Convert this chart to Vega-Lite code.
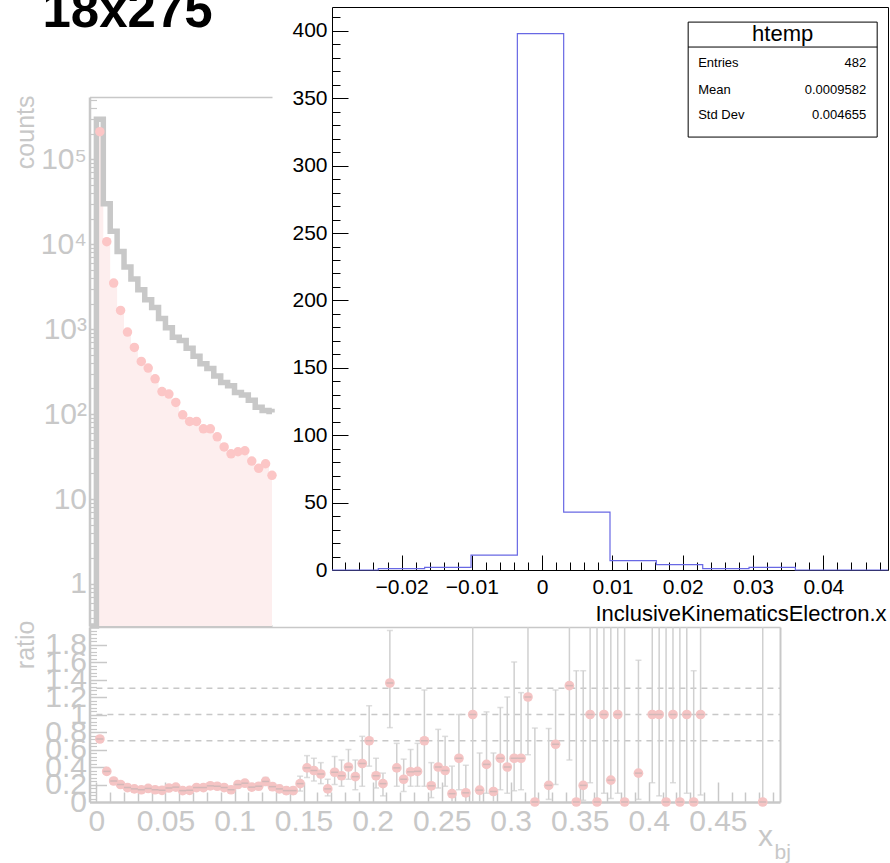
{
 "$schema": "https://vega.github.io/schema/vega-lite/v6.json",
 "width": 890, "height": 863,
 "autosize": {"type": "none"},
 "padding": 0,
 "background": "white",
 "config": {
  "view": {"stroke": null},
  "axis": {"grid": false, "labelFont": "Liberation Sans", "titleFont": "Liberation Sans", "labelFlush": false, "labelOverlap": false, "titleFontWeight": "normal"}
 },
 "datasets": {
  "bins": [
   {"lo": -0.005, "total": 0.32},
   {"lo": 0, "x": 0.0025, "total": 295000, "sel": 211000},
   {"lo": 0.005, "x": 0.0075, "total": 30000, "sel": 10700},
   {"lo": 0.01, "x": 0.0125, "total": 14200, "sel": 3480},
   {"lo": 0.015, "x": 0.0175, "total": 8200, "sel": 1660},
   {"lo": 0.02, "x": 0.0225, "total": 5400, "sel": 922},
   {"lo": 0.025, "x": 0.0275, "total": 3900, "sel": 608},
   {"lo": 0.03, "x": 0.0325, "total": 2900, "sel": 416},
   {"lo": 0.035, "x": 0.0375, "total": 2220, "sel": 348},
   {"lo": 0.04, "x": 0.0425, "total": 1800, "sel": 260},
   {"lo": 0.045, "x": 0.0475, "total": 1330, "sel": 184},
   {"lo": 0.05, "x": 0.0525, "total": 1040, "sel": 172},
   {"lo": 0.055, "x": 0.0575, "total": 800, "sel": 137},
   {"lo": 0.06, "x": 0.0625, "total": 735, "sel": 98},
   {"lo": 0.065, "x": 0.0675, "total": 595, "sel": 82},
   {"lo": 0.07, "x": 0.0725, "total": 480, "sel": 82},
   {"lo": 0.075, "x": 0.0775, "total": 390, "sel": 67},
   {"lo": 0.08, "x": 0.0825, "total": 345, "sel": 67},
   {"lo": 0.085, "x": 0.0875, "total": 280, "sel": 54},
   {"lo": 0.09, "x": 0.0925, "total": 235, "sel": 41},
   {"lo": 0.095, "x": 0.0975, "total": 215, "sel": 34},
   {"lo": 0.1, "x": 0.1025, "total": 180, "sel": 36},
   {"lo": 0.105, "x": 0.1075, "total": 168, "sel": 37},
   {"lo": 0.11, "x": 0.1125, "total": 145, "sel": 28},
   {"lo": 0.115, "x": 0.1175, "total": 120, "sel": 23},
   {"lo": 0.12, "x": 0.1225, "total": 110, "sel": 26},
   {"lo": 0.125, "x": 0.1275, "total": 107, "sel": 19},
   {"lo": 0.13, "x": 0.1325, "total": 104, "sel": 17}
  ],
  "ratio": [
   {"x": 0.0025, "r": 0.72, "lo": 0.712, "hi": 0.728},
   {"x": 0.0075, "r": 0.35, "lo": 0.343, "hi": 0.357},
   {"x": 0.0125, "r": 0.24, "lo": 0.233, "hi": 0.247},
   {"x": 0.0175, "r": 0.2, "lo": 0.192, "hi": 0.208},
   {"x": 0.0225, "r": 0.165, "lo": 0.156, "hi": 0.174},
   {"x": 0.0275, "r": 0.15, "lo": 0.14, "hi": 0.16},
   {"x": 0.0325, "r": 0.14, "lo": 0.129, "hi": 0.151},
   {"x": 0.0375, "r": 0.155, "lo": 0.142, "hi": 0.168},
   {"x": 0.0425, "r": 0.14, "lo": 0.126, "hi": 0.154},
   {"x": 0.0475, "r": 0.134, "lo": 0.119, "hi": 0.149},
   {"x": 0.0525, "r": 0.16, "lo": 0.143, "hi": 0.177},
   {"x": 0.0575, "r": 0.17, "lo": 0.151, "hi": 0.189},
   {"x": 0.0625, "r": 0.13, "lo": 0.111, "hi": 0.149},
   {"x": 0.0675, "r": 0.134, "lo": 0.113, "hi": 0.155},
   {"x": 0.0725, "r": 0.165, "lo": 0.142, "hi": 0.188},
   {"x": 0.0775, "r": 0.165, "lo": 0.14, "hi": 0.19},
   {"x": 0.0825, "r": 0.185, "lo": 0.158, "hi": 0.212},
   {"x": 0.0875, "r": 0.18, "lo": 0.152, "hi": 0.208},
   {"x": 0.0925, "r": 0.165, "lo": 0.136, "hi": 0.194},
   {"x": 0.0975, "r": 0.14, "lo": 0.111, "hi": 0.169},
   {"x": 0.1025, "r": 0.2, "lo": 0.167, "hi": 0.233},
   {"x": 0.1075, "r": 0.215, "lo": 0.18, "hi": 0.25},
   {"x": 0.1125, "r": 0.17, "lo": 0.136, "hi": 0.204},
   {"x": 0.1175, "r": 0.18, "lo": 0.142, "hi": 0.218},
   {"x": 0.1225, "r": 0.235, "lo": 0.19, "hi": 0.28},
   {"x": 0.1275, "r": 0.175, "lo": 0.135, "hi": 0.215},
   {"x": 0.1325, "r": 0.15, "lo": 0.11, "hi": 0.19},
   {"x": 0.1375, "r": 0.13, "lo": 0.09, "hi": 0.17},
   {"x": 0.1425, "r": 0.13, "lo": 0.09, "hi": 0.17},
   {"x": 0.1475, "r": 0.21, "lo": 0.125, "hi": 0.295},
   {"x": 0.1525, "r": 0.39, "lo": 0.28, "hi": 0.53},
   {"x": 0.1575, "r": 0.36, "lo": 0.24, "hi": 0.5},
   {"x": 0.1625, "r": 0.32, "lo": 0.21, "hi": 0.45},
   {"x": 0.1675, "r": 0.15, "lo": 0.07, "hi": 0.26},
   {"x": 0.1725, "r": 0.34, "lo": 0.2, "hi": 0.52},
   {"x": 0.1775, "r": 0.3, "lo": 0.18, "hi": 0.48},
   {"x": 0.1825, "r": 0.4, "lo": 0.26, "hi": 0.6},
   {"x": 0.1875, "r": 0.29, "lo": 0.14, "hi": 0.48},
   {"x": 0.1925, "r": 0.44, "lo": 0.18, "hi": 0.75},
   {"x": 0.1975, "r": 0.7, "lo": 0.41, "hi": 1.1},
   {"x": 0.2025, "r": 0.3, "lo": 0.16, "hi": 0.5},
   {"x": 0.2075, "r": 0.21, "lo": 0.07, "hi": 0.33},
   {"x": 0.2125, "r": 1.36, "lo": 0.85, "hi": 1.96},
   {"x": 0.2175, "r": 0.39, "lo": 0.18, "hi": 0.67},
   {"x": 0.2225, "r": 0.26, "lo": 0.12, "hi": 0.49},
   {"x": 0.2275, "r": 0.345, "lo": 0.18, "hi": 0.6},
   {"x": 0.2325, "r": 0.35, "lo": 0.18, "hi": 0.67},
   {"x": 0.2375, "r": 0.7, "lo": 0.18, "hi": 1.28},
   {"x": 0.2425, "r": 0.185, "lo": 0.05, "hi": 0.45},
   {"x": 0.2475, "r": 0.4, "lo": 0.16, "hi": 0.83},
   {"x": 0.2525, "r": 0.36, "lo": 0.18, "hi": 0.75},
   {"x": 0.2575, "r": 0.095, "lo": 0, "hi": 0.41},
   {"x": 0.2625, "r": 0.5, "lo": 0.14, "hi": 1.0},
   {"x": 0.2675, "r": 0.105, "lo": 0, "hi": 0.42},
   {"x": 0.2725, "r": 1.0, "lo": 0, "hi": 2.5},
   {"x": 0.2775, "r": 0.135, "lo": 0, "hi": 0.56},
   {"x": 0.2825, "r": 0.43, "lo": 0.1, "hi": 1.03},
   {"x": 0.2875, "r": 0.12, "lo": 0, "hi": 0.56},
   {"x": 0.2925, "r": 0.5, "lo": 0.14, "hi": 1.08},
   {"x": 0.2975, "r": 0.4, "lo": 0.1, "hi": 1.2},
   {"x": 0.3025, "r": 0.5, "lo": 0.13, "hi": 1.6},
   {"x": 0.3075, "r": 0.5, "lo": 0.14, "hi": 1.25},
   {"x": 0.3125, "r": 1.2, "lo": 0.54, "hi": 2.5},
   {"x": 0.3175, "r": 0, "lo": 0, "hi": 0.845},
   {"x": 0.3275, "r": 0.19, "lo": 0.03, "hi": 0.84},
   {"x": 0.3325, "r": 0.66, "lo": 0.2, "hi": 1.28},
   {"x": 0.3425, "r": 1.33, "lo": 0.48, "hi": 2.5},
   {"x": 0.3475, "r": 0, "lo": 0, "hi": 1.5},
   {"x": 0.3525, "r": 0.19, "lo": 0.02, "hi": 1.5},
   {"x": 0.3575, "r": 1.0, "lo": 0.22, "hi": 2.5},
   {"x": 0.3625, "r": 0, "lo": 0, "hi": 2.5},
   {"x": 0.3675, "r": 1.0, "lo": 0.1, "hi": 2.5},
   {"x": 0.3725, "r": 0.25, "lo": 0.04, "hi": 2.5},
   {"x": 0.3775, "r": 1.0, "lo": 0.1, "hi": 2.5},
   {"x": 0.3825, "r": 0, "lo": 0, "hi": 2.5},
   {"x": 0.3925, "r": 0.33, "lo": 0.03, "hi": 1.62},
   {"x": 0.4025, "r": 1.0, "lo": 0.22, "hi": 2.5},
   {"x": 0.4075, "r": 1.0, "lo": 0.07, "hi": 2.5},
   {"x": 0.4125, "r": 0, "lo": 0, "hi": 2.5},
   {"x": 0.4175, "r": 1.0, "lo": 0.22, "hi": 2.5},
   {"x": 0.4225, "r": 0, "lo": 0, "hi": 2.5},
   {"x": 0.4275, "r": 1.0, "lo": 0.1, "hi": 2.5},
   {"x": 0.4325, "r": 0, "lo": 0, "hi": 1.5},
   {"x": 0.4375, "r": 1.0, "lo": 0.08, "hi": 2.5},
   {"x": 0.4825, "r": 0, "lo": 0, "hi": 2.5}
  ],
  "refs": [{"ref": 0.7}, {"ref": 1.0}, {"ref": 1.3}],
  "hist": [
   {"edge": -0.0299, "count": 0},
   {"edge": -0.02331, "count": 1},
   {"edge": -0.01672, "count": 2},
   {"edge": -0.01012, "count": 11},
   {"edge": -0.00353, "count": 398},
   {"edge": 0.00306, "count": 43},
   {"edge": 0.00965, "count": 7},
   {"edge": 0.01624, "count": 4},
   {"edge": 0.02284, "count": 1},
   {"edge": 0.02943, "count": 2},
   {"edge": 0.03602, "count": 0},
   {"edge": 0.0492, "count": 0}
  ],
  "statbox": [{"title": "htemp"}],
  "stats": [
   {"stat": "Entries", "value": "482"},
   {"stat": "Mean", "value": "0.0009582"},
   {"stat": "Std Dev", "value": "0.004655"}
  ]
 },
 "layer": [
  {
   "data": {"name": "bins"},
   "transform": [{"filter": "isValid(datum.sel)"}],
   "mark": {"type": "area", "interpolate": "step-after", "color": "#fdeeee"},
   "encoding": {
    "x": {"field": "lo", "type": "quantitative", "scale": {"domain": [-0.005, 0.12715], "range": [89.5, 272], "clamp": true, "nice": false, "zero": false},
     "axis": {"orient": "bottom", "offset": -237, "values": [0, 0.05, 0.1], "labels": false, "domain": true, "domainWidth": 2.5, "domainColor": "#c8c8c8", "ticks": true, "tickSize": -20, "tickWidth": 1.5, "tickColor": "#c8c8c8", "title": null}},
    "y": {"field": "sel", "type": "quantitative", "scale": {"type": "log", "domain": [0.32, 540000], "range": [626, 97], "clamp": true, "nice": false},
     "axis": {"orient": "left", "offset": -89.5, "values": [1, 10, 100, 1000, 10000, 100000], "labelExpr": "datum.value == 1 ? '1' : datum.value == 10 ? '10' : '10' + ['', '', '²', '³', '⁴', '⁵'][round(log(datum.value)/LN10)]", "labelFontSize": 30, "labelColor": "#c8c8c8", "labelPadding": 3, "ticks": false, "domain": true, "domainWidth": 2.5, "domainColor": "#c8c8c8", "title": "counts", "titleFontSize": 25, "titleColor": "#c8c8c8", "titleAngle": -90, "titleAlign": "right", "titleBaseline": "alphabetic", "titleX": -56, "titleY": 95}},
    "y2": {"datum": 0.32}
   }
  },
  {
   "data": {"name": "bins"},
   "mark": {"type": "line", "interpolate": "step-after", "color": "#c8c8c8", "strokeWidth": 5.5},
   "encoding": {
    "x": {"field": "lo", "type": "quantitative", "scale": {"domain": [-0.005, 0.12715], "range": [89.5, 272], "clamp": true, "nice": false, "zero": false},
     "axis": {"orient": "bottom", "offset": -237, "values": [0.01, 0.02, 0.03, 0.04, 0.06, 0.07, 0.08, 0.09, 0.11, 0.12], "labels": false, "domain": false, "ticks": true, "tickSize": -10, "tickWidth": 1.5, "tickColor": "#c8c8c8", "title": null}},
    "y": {"field": "total", "type": "quantitative", "scale": {"type": "log", "domain": [0.32, 540000], "range": [626, 97], "clamp": true, "nice": false},
     "axis": {"orient": "left", "offset": -89.5, "values": [1, 10, 100, 1000, 10000, 100000], "labels": false, "domain": false, "ticks": true, "tickSize": -14, "tickWidth": 1.5, "tickColor": "#c8c8c8", "title": null}}
   }
  },
  {
   "data": {"name": "bins"},
   "transform": [{"filter": "isValid(datum.sel) && datum.x < 0.13"}],
   "mark": {"type": "circle", "size": 90, "color": "#fcc6c6", "opacity": 1},
   "encoding": {
    "x": {"field": "x", "type": "quantitative", "scale": {"domain": [-0.005, 0.12715], "range": [89.5, 272], "clamp": true, "nice": false, "zero": false},
     "axis": {"orient": "top", "offset": -97, "labels": false, "ticks": false, "domain": true, "domainWidth": 1.5, "domainColor": "#c8c8c8", "title": "18x275", "titleFont": "Liberation Sans", "titleFontSize": 51, "titleFontWeight": "bold", "titleColor": "#000000", "titleAlign": "left", "titleBaseline": "alphabetic", "titleAngle": 0, "titleX": 42, "titleY": -71}},
    "y": {"field": "sel", "type": "quantitative", "scale": {"type": "log", "domain": [0.32, 540000], "range": [626, 97], "clamp": true, "nice": false},
     "axis": {"orient": "left", "offset": -89.5, "values": [0.4, 0.5, 0.6, 0.7, 0.8, 0.9, 2, 3, 4, 5, 6, 7, 8, 9, 20, 30, 40, 50, 60, 70, 80, 90, 200, 300, 400, 500, 600, 700, 800, 900, 2000, 3000, 4000, 5000, 6000, 7000, 8000, 9000, 20000, 30000, 40000, 50000, 60000, 70000, 80000, 90000, 200000, 300000, 400000, 500000], "labels": false, "domain": false, "ticks": true, "tickSize": -7, "tickWidth": 1.2, "tickColor": "#c8c8c8", "title": null}}
   }
  },
  {
   "data": {"name": "refs"},
   "mark": {"type": "rule", "color": "#c8c8c8", "strokeWidth": 1.5, "strokeDash": [6, 5]},
   "encoding": {
    "x": {"datum": 0, "type": "quantitative", "scale": {"domain": [-0.005, 0.495], "range": [89.5, 780], "nice": false, "zero": false},
     "axis": {"orient": "bottom", "offset": -61, "values": [0, 0.05, 0.1, 0.15, 0.2, 0.25, 0.3, 0.35, 0.4, 0.45], "format": "~g", "labelFontSize": 30, "labelColor": "#c8c8c8", "labelPadding": 4, "ticks": false, "domain": true, "domainWidth": 2.5, "domainColor": "#c8c8c8", "title": "x", "titleFontSize": 30, "titleColor": "#c8c8c8", "titleAlign": "center", "titleBaseline": "alphabetic", "titleX": 765, "titleY": 43}},
    "x2": {"datum": 0.495},
    "y": {"field": "ref", "type": "quantitative", "scale": {"domain": [0, 2], "range": [802, 627], "clamp": true, "nice": false, "zero": false},
     "axis": {"orient": "left", "offset": -89.5, "values": [0, 0.2, 0.4, 0.6, 0.8, 1, 1.2, 1.4, 1.6, 1.8], "format": "~g", "labelFontSize": 30, "labelColor": "#c8c8c8", "labelPadding": 3, "ticks": false, "domain": true, "domainWidth": 2.5, "domainColor": "#c8c8c8", "title": "ratio", "titleFontSize": 25, "titleColor": "#c8c8c8", "titleAngle": -90, "titleAlign": "right", "titleBaseline": "alphabetic", "titleX": -56, "titleY": 620}}
   }
  },
  {
   "data": {"name": "ratio"},
   "mark": {"type": "rule", "color": "#d0d0d0", "strokeWidth": 1.5},
   "encoding": {
    "x": {"field": "x", "type": "quantitative", "scale": {"domain": [-0.005, 0.495], "range": [89.5, 780], "nice": false, "zero": false},
     "axis": {"orient": "bottom", "offset": -61, "values": [0, 0.05, 0.1, 0.15, 0.2, 0.25, 0.3, 0.35, 0.4, 0.45], "labels": false, "domain": false, "ticks": true, "tickSize": -20, "tickWidth": 1.5, "tickColor": "#c8c8c8", "title": null}},
    "y": {"field": "lo", "type": "quantitative", "scale": {"domain": [0, 2], "range": [802, 627], "clamp": true, "nice": false, "zero": false},
     "axis": {"orient": "left", "offset": -89.5, "values": [0.2, 0.4, 0.6, 0.8, 1, 1.2, 1.4, 1.6, 1.8], "labels": false, "domain": false, "ticks": true, "tickSize": -17, "tickWidth": 1.5, "tickColor": "#c8c8c8", "title": null}},
    "y2": {"field": "hi"}
   }
  },
  {
   "data": {"name": "ratio"},
   "transform": [{"filter": "datum.lo > 0.005"}],
   "mark": {"type": "tick", "orient": "horizontal", "size": 6, "thickness": 1.5, "color": "#d0d0d0"},
   "encoding": {
    "x": {"field": "x", "type": "quantitative", "scale": {"domain": [-0.005, 0.495], "range": [89.5, 780], "nice": false, "zero": false},
     "axis": {"orient": "bottom", "offset": -61, "values": [0.01, 0.02, 0.03, 0.04, 0.06, 0.07, 0.08, 0.09, 0.11, 0.12, 0.13, 0.14, 0.16, 0.17, 0.18, 0.19, 0.21, 0.22, 0.23, 0.24, 0.26, 0.27, 0.28, 0.29, 0.31, 0.32, 0.33, 0.34, 0.36, 0.37, 0.38, 0.39, 0.41, 0.42, 0.43, 0.44, 0.46, 0.47, 0.48, 0.49], "labels": false, "domain": false, "ticks": true, "tickSize": -10, "tickWidth": 1.5, "tickColor": "#c8c8c8", "title": null}},
    "y": {"field": "lo", "type": "quantitative", "scale": {"domain": [0, 2], "range": [802, 627], "clamp": true, "nice": false, "zero": false},
     "axis": {"orient": "left", "offset": -89.5, "values": [0.04, 0.08, 0.12, 0.16, 0.24, 0.28, 0.32, 0.36, 0.44, 0.48, 0.52, 0.56, 0.64, 0.68, 0.72, 0.76, 0.84, 0.88, 0.92, 0.96, 1.04, 1.08, 1.12, 1.16, 1.24, 1.28, 1.32, 1.36, 1.44, 1.48, 1.52, 1.56, 1.64, 1.68, 1.72, 1.76, 1.84, 1.88, 1.92, 1.96], "labels": false, "domain": false, "ticks": true, "tickSize": -7, "tickWidth": 1.2, "tickColor": "#c8c8c8", "title": null}}
   }
  },
  {
   "data": {"name": "ratio"},
   "transform": [{"filter": "datum.hi < 1.99"}],
   "mark": {"type": "tick", "orient": "horizontal", "size": 6, "thickness": 1.5, "color": "#d0d0d0"},
   "encoding": {
    "x": {"field": "x", "type": "quantitative", "scale": {"domain": [-0.005, 0.495], "range": [89.5, 780], "nice": false, "zero": false},
     "axis": {"orient": "top", "offset": -627, "labels": false, "ticks": false, "domain": true, "domainWidth": 1.5, "domainColor": "#c8c8c8", "title": null}},
    "y": {"field": "hi", "type": "quantitative", "scale": {"domain": [0, 2], "range": [802, 627], "clamp": true, "nice": false, "zero": false},
     "axis": {"orient": "right", "offset": -110, "labels": false, "ticks": false, "domain": true, "domainWidth": 2, "domainColor": "#c8c8c8", "title": null}}
   }
  },
  {
   "data": {"name": "ratio"},
   "mark": {"type": "circle", "size": 95, "color": "#f5c4c4", "opacity": 1},
   "encoding": {
    "x": {"field": "x", "type": "quantitative", "scale": {"domain": [-0.005, 0.495], "range": [89.5, 780], "nice": false, "zero": false},
     "axis": {"orient": "bottom", "offset": -61, "labels": false, "ticks": false, "domain": false, "title": "bj", "titleFontSize": 21, "titleColor": "#c8c8c8", "titleAlign": "left", "titleBaseline": "alphabetic", "titleX": 774, "titleY": 56}},
    "y": {"field": "r", "type": "quantitative", "scale": {"domain": [0, 2], "range": [802, 627], "clamp": true, "nice": false, "zero": false}, "axis": null}
   }
  },
  {
   "data": {"name": "ratio"},
   "mark": {"type": "tick", "orient": "horizontal", "size": 7, "thickness": 1.5, "color": "#c4b4b4"},
   "encoding": {
    "x": {"field": "x", "type": "quantitative", "scale": {"domain": [-0.005, 0.495], "range": [89.5, 780], "nice": false, "zero": false}, "axis": null},
    "y": {"field": "r", "type": "quantitative", "scale": {"domain": [0, 2], "range": [802, 627], "clamp": true, "nice": false, "zero": false}, "axis": null}
   }
  },
  {
   "data": {"name": "hist"},
   "mark": {"type": "line", "interpolate": "step-after", "color": "#6868e4", "strokeWidth": 1.2},
   "encoding": {
    "x": {"field": "edge", "type": "quantitative", "scale": {"domain": [-0.0299, 0.0492], "range": [332, 888], "nice": false, "zero": false},
     "axis": {"orient": "bottom", "offset": -293, "values": [-0.02, -0.01, 0, 0.01, 0.02, 0.03, 0.04], "format": "~g", "labelFontSize": 21, "labelColor": "#000000", "labelPadding": 6, "ticks": false, "domain": true, "domainColor": "#000000", "domainWidth": 1, "title": "InclusiveKinematicsElectron.x", "titleFontSize": 22, "titleColor": "#000000", "titleAlign": "right", "titleBaseline": "alphabetic", "titleX": 886, "titleY": 50}},
    "y": {"field": "count", "type": "quantitative", "scale": {"domain": [0, 417.7], "range": [570, 7], "nice": false, "zero": false},
     "axis": {"orient": "left", "offset": -332, "values": [0, 50, 100, 150, 200, 250, 300, 350, 400], "format": "d", "labelFontSize": 21, "labelColor": "#000000", "labelPadding": 5, "ticks": false, "domain": true, "domainColor": "#000000", "domainWidth": 1, "title": null}}
   }
  },
  {
   "data": {"name": "statbox"},
   "mark": {"type": "rect", "fill": "#ffffff", "stroke": "#000000", "strokeWidth": 1},
   "encoding": {
    "x": {"datum": 0.02077, "type": "quantitative", "scale": {"domain": [-0.0299, 0.0492], "range": [332, 888], "nice": false, "zero": false},
     "axis": {"orient": "bottom", "offset": -293, "values": [-0.02, -0.01, 0, 0.01, 0.02, 0.03, 0.04], "labels": false, "domain": false, "ticks": true, "tickSize": -15, "tickWidth": 1, "tickColor": "#000000", "title": null}},
    "x2": {"datum": 0.04766},
    "y": {"datum": 406.5, "type": "quantitative", "scale": {"domain": [0, 417.7], "range": [570, 7], "nice": false, "zero": false},
     "axis": {"orient": "left", "offset": -332, "values": [0, 50, 100, 150, 200, 250, 300, 350, 400], "labels": false, "domain": false, "ticks": true, "tickSize": -16, "tickWidth": 1, "tickColor": "#000000", "title": null}},
    "y2": {"datum": 321.2}
   }
  },
  {
   "data": {"name": "statbox"},
   "mark": {"type": "rule", "color": "#000000", "strokeWidth": 1},
   "encoding": {
    "x": {"datum": 0.02077, "type": "quantitative", "scale": {"domain": [-0.0299, 0.0492], "range": [332, 888], "nice": false, "zero": false},
     "axis": {"orient": "bottom", "offset": -293, "values": [-0.028, -0.026, -0.024, -0.022, -0.018, -0.016, -0.014, -0.012, -0.008, -0.006, -0.004, -0.002, 0.002, 0.004, 0.006, 0.008, 0.012, 0.014, 0.016, 0.018, 0.022, 0.024, 0.026, 0.028, 0.032, 0.034, 0.036, 0.038, 0.042, 0.044, 0.046, 0.048], "labels": false, "domain": false, "ticks": true, "tickSize": -8, "tickWidth": 1, "tickColor": "#000000", "title": null}},
    "x2": {"datum": 0.04766},
    "y": {"datum": 388.0, "type": "quantitative", "scale": {"domain": [0, 417.7], "range": [570, 7], "nice": false, "zero": false},
     "axis": {"orient": "left", "offset": -332, "values": [10, 20, 30, 40, 60, 70, 80, 90, 110, 120, 130, 140, 160, 170, 180, 190, 210, 220, 230, 240, 260, 270, 280, 290, 310, 320, 330, 340, 360, 370, 380, 390, 410], "labels": false, "domain": false, "ticks": true, "tickSize": -8, "tickWidth": 1, "tickColor": "#000000", "title": null}}
   }
  },
  {
   "data": {"name": "statbox"},
   "mark": {"type": "text", "align": "center", "baseline": "middle", "fontSize": 22, "font": "Liberation Sans", "color": "#000000"},
   "encoding": {
    "x": {"datum": 0.03421, "type": "quantitative", "scale": {"domain": [-0.0299, 0.0492], "range": [332, 888], "nice": false, "zero": false},
     "axis": {"orient": "top", "offset": -7, "labels": false, "ticks": false, "domain": true, "domainColor": "#000000", "domainWidth": 1, "title": null}},
    "y": {"datum": 397.5, "type": "quantitative", "scale": {"domain": [0, 417.7], "range": [570, 7], "nice": false, "zero": false},
     "axis": {"orient": "right", "offset": -2, "labels": false, "ticks": false, "domain": true, "domainColor": "#000000", "domainWidth": 1, "title": null}},
    "text": {"field": "title"}
   }
  },
  {
   "data": {"name": "stats"},
   "transform": [{"filter": "datum.stat == 'Entries'"}],
   "mark": {"type": "text", "align": "left", "baseline": "middle", "fontSize": 13, "font": "Liberation Sans", "color": "#000000"},
   "encoding": {
    "x": {"datum": 0.02219, "type": "quantitative", "scale": {"domain": [-0.0299, 0.0492], "range": [332, 888], "nice": false, "zero": false}, "axis": null},
    "y": {"datum": 375.8, "type": "quantitative", "scale": {"domain": [0, 417.7], "range": [570, 7], "nice": false, "zero": false}, "axis": null},
    "text": {"field": "stat"}
   }
  },
  {
   "data": {"name": "stats"},
   "transform": [{"filter": "datum.stat == 'Mean'"}],
   "mark": {"type": "text", "align": "left", "baseline": "middle", "fontSize": 13, "font": "Liberation Sans", "color": "#000000"},
   "encoding": {
    "x": {"datum": 0.02219, "type": "quantitative", "scale": {"domain": [-0.0299, 0.0492], "range": [332, 888], "nice": false, "zero": false}, "axis": null},
    "y": {"datum": 356.2, "type": "quantitative", "scale": {"domain": [0, 417.7], "range": [570, 7], "nice": false, "zero": false}, "axis": null},
    "text": {"field": "stat"}
   }
  },
  {
   "data": {"name": "stats"},
   "transform": [{"filter": "datum.stat == 'Std Dev'"}],
   "mark": {"type": "text", "align": "left", "baseline": "middle", "fontSize": 13, "font": "Liberation Sans", "color": "#000000"},
   "encoding": {
    "x": {"datum": 0.02219, "type": "quantitative", "scale": {"domain": [-0.0299, 0.0492], "range": [332, 888], "nice": false, "zero": false}, "axis": null},
    "y": {"datum": 337.8, "type": "quantitative", "scale": {"domain": [0, 417.7], "range": [570, 7], "nice": false, "zero": false}, "axis": null},
    "text": {"field": "stat"}
   }
  },
  {
   "data": {"name": "stats"},
   "transform": [{"filter": "datum.stat == 'Entries'"}],
   "mark": {"type": "text", "align": "right", "baseline": "middle", "fontSize": 13, "font": "Liberation Sans", "color": "#000000"},
   "encoding": {
    "x": {"datum": 0.04609, "type": "quantitative", "scale": {"domain": [-0.0299, 0.0492], "range": [332, 888], "nice": false, "zero": false}, "axis": null},
    "y": {"datum": 375.8, "type": "quantitative", "scale": {"domain": [0, 417.7], "range": [570, 7], "nice": false, "zero": false}, "axis": null},
    "text": {"field": "value"}
   }
  },
  {
   "data": {"name": "stats"},
   "transform": [{"filter": "datum.stat == 'Mean'"}],
   "mark": {"type": "text", "align": "right", "baseline": "middle", "fontSize": 13, "font": "Liberation Sans", "color": "#000000"},
   "encoding": {
    "x": {"datum": 0.04609, "type": "quantitative", "scale": {"domain": [-0.0299, 0.0492], "range": [332, 888], "nice": false, "zero": false}, "axis": null},
    "y": {"datum": 356.2, "type": "quantitative", "scale": {"domain": [0, 417.7], "range": [570, 7], "nice": false, "zero": false}, "axis": null},
    "text": {"field": "value"}
   }
  },
  {
   "data": {"name": "stats"},
   "transform": [{"filter": "datum.stat == 'Std Dev'"}],
   "mark": {"type": "text", "align": "right", "baseline": "middle", "fontSize": 13, "font": "Liberation Sans", "color": "#000000"},
   "encoding": {
    "x": {"datum": 0.04609, "type": "quantitative", "scale": {"domain": [-0.0299, 0.0492], "range": [332, 888], "nice": false, "zero": false}, "axis": null},
    "y": {"datum": 337.8, "type": "quantitative", "scale": {"domain": [0, 417.7], "range": [570, 7], "nice": false, "zero": false}, "axis": null},
    "text": {"field": "value"}
   }
  }
 ],
 "resolve": {"scale": {"x": "independent", "y": "independent"}, "axis": {"x": "independent", "y": "independent"}}
}
